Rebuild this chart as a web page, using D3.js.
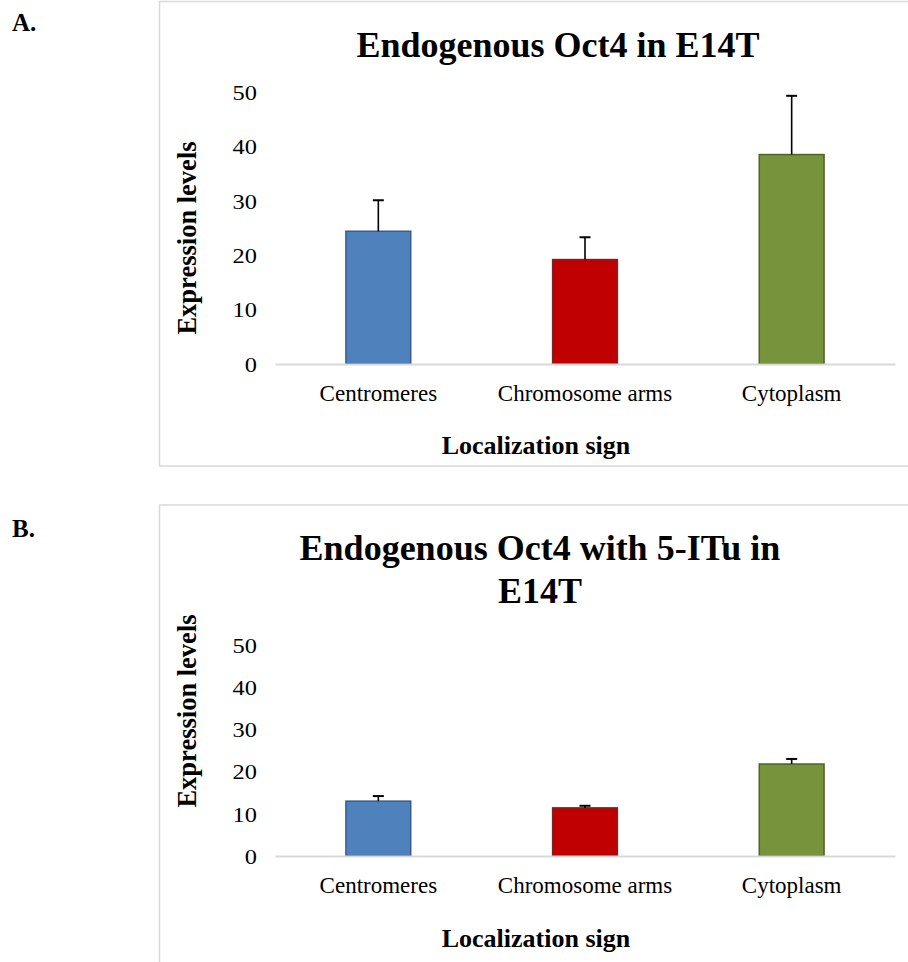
<!DOCTYPE html>
<html>
<head>
<meta charset="utf-8">
<script src="https://cdn.jsdelivr.net/npm/d3@7"></script>
<style>
  html, body { margin: 0; padding: 0; background: #fff; }
  svg { display: block; }
  text { font-family: "Liberation Serif", "Times New Roman", serif; fill: #000; }
</style>
</head>
<body>
<svg id="chart" width="908" height="962"></svg>
<script>
// ---- data ----
const categories = ["Centromeres", "Chromosome arms", "Cytoplasm"];
const valuesA = [24.4, 19.2, 38.5];
const errorsA = [5.7, 4.1, 10.8];
const valuesB = [13.0, 11.4, 21.8];
const errorsB = [1.2, 0.5, 1.2];
const yTicks = [0, 10, 20, 30, 40, 50];
const titleA = ["Endogenous Oct4 in E14T"];
const titleB = ["Endogenous Oct4 with 5-ITu in", "E14T"];
const xTitle = "Localization sign";
const yTitle = "Expression levels";
const fills = ["#4F81BD", "#C00000", "#77933C"];
const strokes = ["#385D8A", "#7A2323", "#4F6228"];

const svg = d3.select("#chart");

function panel(cfg) {
  const g = svg.append("g");
  // chart area border
  g.append("rect")
    .attr("x", cfg.box[0]).attr("y", cfg.box[1])
    .attr("width", cfg.box[2]).attr("height", cfg.box[3])
    .attr("fill", "#fff").attr("stroke", "#D9D9D9").attr("stroke-width", 1.5);

  // panel letter
  svg.append("text").attr("x", 12).attr("y", cfg.letterY)
    .attr("font-size", 25).attr("font-weight", "bold").text(cfg.letter);

  const x = d3.scaleBand().domain(categories).range([275, 895]).padding(0);
  const y = d3.scaleLinear().domain([0, 50]).range(cfg.yRange);
  const bw = x.bandwidth() / 3.19;

  // y axis labels
  const yAxis = d3.axisLeft(y).tickValues(yTicks).tickSize(0).tickPadding(0).tickFormat(d3.format("d"));
  const ya = g.append("g").attr("transform", "translate(257,0)").call(yAxis);
  ya.select(".domain").remove();
  ya.selectAll("text").attr("font-size", 20).attr("fill", "#000")
    .attr("dy", "0.36em").attr("transform", "scale(1.22,1)");

  // bars
  g.selectAll("rect.bar").data(cfg.values).enter().append("rect")
    .attr("class", "bar")
    .attr("x", (d, i) => x(categories[i]) + x.bandwidth() / 2 - bw / 2)
    .attr("width", bw)
    .attr("y", d => y(d))
    .attr("height", d => y(0) - y(d))
    .attr("fill", (d, i) => fills[i])
    .attr("stroke", (d, i) => strokes[i])
    .attr("stroke-width", 1.5);

  // error bars (positive only)
  cfg.values.forEach((v, i) => {
    const cx = x(categories[i]) + x.bandwidth() / 2;
    g.append("line").attr("x1", cx).attr("x2", cx)
      .attr("y1", y(v)).attr("y2", y(v + cfg.errors[i]))
      .attr("stroke", "#000").attr("stroke-width", 1.6);
    g.append("line").attr("x1", cx - 5.5).attr("x2", cx + 5.5)
      .attr("y1", y(v + cfg.errors[i])).attr("y2", y(v + cfg.errors[i]))
      .attr("stroke", "#000").attr("stroke-width", 2);
  });

  // x axis
  const xAxis = d3.axisBottom(x).tickSize(0).tickPadding(0);
  const xa = g.append("g").attr("transform", `translate(0,${y(0)})`).call(xAxis);
  xa.select(".domain").attr("stroke", "#D9D9D9").attr("stroke-width", 2);
  xa.selectAll("text").attr("font-size", 23)
    .attr("fill", "#000").attr("dy", null).attr("y", cfg.xLabelDy);

  // titles
  cfg.title.forEach((t, k) => {
    g.append("text").attr("x", cfg.titleX).attr("y", cfg.titleY + k * 43)
      .attr("text-anchor", "middle").attr("font-size", 36).attr("font-weight", "bold").text(t);
  });
  g.append("text").attr("x", 536).attr("y", cfg.xTitleY)
    .attr("text-anchor", "middle").attr("font-size", 26).attr("font-weight", "bold").text(xTitle);
  g.append("text").attr("transform", `translate(196,${cfg.yTitleC}) rotate(-90)`)
    .attr("text-anchor", "middle").attr("font-size", 26.5).attr("font-weight", "bold").text(yTitle);
}

panel({
  letter: "A.", letterY: 31,
  box: [159.5, 1.5, 760, 464.5],
  values: valuesA, errors: errorsA,
  yRange: [364, 92],
  xLabelDy: 37,
  title: titleA, titleX: 558, titleY: 57,
  xTitleY: 454, yTitleC: 238
});

panel({
  letter: "B.", letterY: 537,
  box: [159.5, 505, 760, 480],
  values: valuesB, errors: errorsB,
  yRange: [856, 645],
  xLabelDy: 37,
  title: titleB, titleX: 540, titleY: 560,
  xTitleY: 947, yTitleC: 711
});
</script>
</body>
</html>
